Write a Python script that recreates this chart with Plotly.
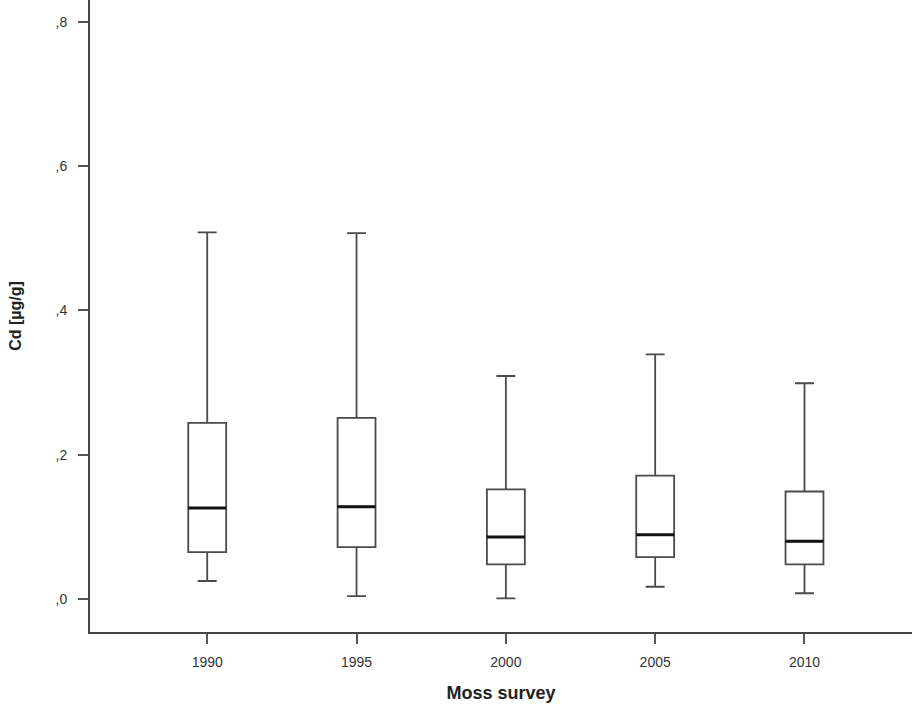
import plotly.graph_objects as go

years = ["1990", "1995", "2000", "2005", "2010"]
lower_whisker = [0.025, 0.004, 0.001, 0.017, 0.008]
q1 = [0.065, 0.072, 0.048, 0.058, 0.048]
median = [0.126, 0.128, 0.086, 0.089, 0.080]
q3 = [0.244, 0.251, 0.152, 0.171, 0.149]
upper_whisker = [0.508, 0.507, 0.309, 0.339, 0.299]

y_tickvals = [0.0, 0.2, 0.4, 0.6, 0.8]
y_ticktext = [",0", ",2", ",4", ",6", ",8"]

pos = list(range(len(years)))
box_w = 0.254

fig = go.Figure()
fig.add_trace(go.Box(
    x=pos, q1=q1, median=median, q3=q3,
    lowerfence=lower_whisker, upperfence=upper_whisker,
    width=box_w, whiskerwidth=0.5,
    fillcolor="rgba(255,255,255,0)",
    line=dict(color="#4a4a4a", width=1.8),
    boxpoints=False, showlegend=False, hoverinfo="skip",
))

# thick median lines
mx, my = [], []
for p, m in zip(pos, median):
    mx += [p - box_w / 2, p + box_w / 2, None]
    my += [m, m, None]
fig.add_trace(go.Scatter(x=mx, y=my, mode="lines",
                         line=dict(color="#111111", width=3),
                         showlegend=False, hoverinfo="skip"))

fig.update_layout(
    width=912, height=712,
    margin=dict(l=90, r=0, t=0, b=80),
    paper_bgcolor="white", plot_bgcolor="white",
    font=dict(family="Liberation Sans, Arial, sans-serif", color="#333333"),
)
fig.update_xaxes(
    range=[-0.785, 4.72], tickvals=pos, ticktext=years,
    showline=True, linecolor="#444444", linewidth=2,
    ticks="outside", ticklen=10, tickcolor="#555555", tickwidth=1.5,
    ticklabelstandoff=6,
    showgrid=False, zeroline=False,
    tickfont=dict(size=14, color="#333333"),
    title=dict(text="<b>Moss survey</b>", font=dict(size=18, color="#222222"), standoff=18),
)
fig.update_yaxes(
    range=[-0.0457, 0.830], tickvals=y_tickvals, ticktext=y_ticktext,
    showline=True, linecolor="#444444", linewidth=2,
    ticks="outside", ticklen=10, tickcolor="#555555", tickwidth=1.5,
    ticklabelstandoff=8,
    showgrid=False, zeroline=False,
    tickfont=dict(size=14, color="#333333"),
    title=dict(text="<b>Cd [µg/g]</b>", font=dict(size=16, color="#222222"), standoff=30),
)

fig.write_html("out.html")
